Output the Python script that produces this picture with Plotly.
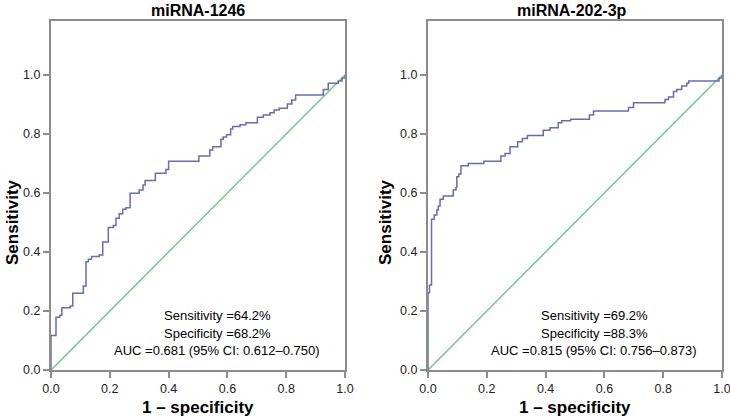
import plotly.graph_objects as go

# ROC curve 1 (miRNA-1246)
fpr1 = [0, 0, 0.017, 0.03, 0.037, 0.065, 0.074, 0.11, 0.119, 0.127, 0.138, 0.164, 0.176, 0.195, 0.212,
        0.221, 0.232, 0.244, 0.255, 0.269, 0.30, 0.313, 0.32, 0.355, 0.391, 0.40, 0.503, 0.54, 0.55, 0.578,
        0.586, 0.597, 0.611, 0.618, 0.643, 0.663, 0.702, 0.722, 0.745, 0.759, 0.776, 0.804, 0.819, 0.832,
        0.926, 0.943, 0.977, 0.99, 1.0]
tpr1 = [0, 0.117, 0.179, 0.186, 0.211, 0.217, 0.26, 0.285, 0.367, 0.375, 0.385, 0.39, 0.434, 0.483, 0.49,
        0.514, 0.53, 0.545, 0.55, 0.599, 0.61, 0.627, 0.642, 0.667, 0.68, 0.708, 0.725, 0.746, 0.757, 0.782,
        0.79, 0.797, 0.817, 0.825, 0.831, 0.838, 0.857, 0.864, 0.872, 0.881, 0.887, 0.902, 0.915, 0.932,
        0.951, 0.972, 0.98, 0.99, 1.0]

# ROC curve 2 (miRNA-202-3p)
fpr2 = [0, 0, 0.005, 0.012, 0.021, 0.03, 0.035, 0.041, 0.052, 0.086, 0.095, 0.098, 0.105, 0.112, 0.137,
        0.19, 0.248, 0.262, 0.279, 0.305, 0.321, 0.338, 0.392, 0.415, 0.443, 0.455, 0.485, 0.549, 0.563,
        0.682, 0.699, 0.806, 0.818, 0.835, 0.846, 0.863, 0.88, 0.887, 0.99, 1.0]
tpr2 = [0, 0.262, 0.288, 0.511, 0.525, 0.542, 0.556, 0.579, 0.59, 0.61, 0.619, 0.655, 0.664, 0.692, 0.70,
        0.708, 0.725, 0.734, 0.757, 0.774, 0.785, 0.795, 0.813, 0.821, 0.838, 0.845, 0.85, 0.864, 0.878,
        0.89, 0.906, 0.917, 0.925, 0.944, 0.951, 0.963, 0.972, 0.98, 0.99, 1.0]

ref_line = [0, 1]
titles = ["miRNA-1246", "miRNA-202-3p"]
stats = [
    ["Sensitivity =64.2%", "Specificity =68.2%", "AUC =0.681 (95% CI: 0.612–0.750)"],
    ["Sensitivity =69.2%", "Specificity =88.3%", "AUC =0.815 (95% CI: 0.756–0.873)"],
]
tick_vals = [0, 0.2, 0.4, 0.6, 0.8, 1.0]
tick_text = ["0.0", "0.2", "0.4", "0.6", "0.8", "1.0"]

BLUE = "rgb(102,110,172)"
GREEN = "rgb(112,198,142)"
FRAME = "rgb(140,140,140)"
FONT = "Liberation Sans, Arial, sans-serif"

fig = go.Figure()

curves = [(fpr1, tpr1), (fpr2, tpr2)]
for i, (fx, fy) in enumerate(curves):
    xa = "x" if i == 0 else "x2"
    ya = "y" if i == 0 else "y2"
    fig.add_trace(go.Scatter(x=ref_line, y=ref_line, mode="lines", line=dict(color=GREEN, width=1.5),
                             xaxis=xa, yaxis=ya, showlegend=False, hoverinfo="skip"))
    fig.add_trace(go.Scatter(x=fx, y=fy, mode="lines", line=dict(color=BLUE, width=1.5, shape="hv"),
                             xaxis=xa, yaxis=ya, showlegend=False))

# pixel layout helpers (plot area: x 51..722, y 21..370)
L, R, T, B = 51, 722, 21, 370
W, H = R - L, B - T


def px(x):
    return (x - L) / W


def py(y):
    return (B - y) / H


doms = [(px(51), px(345)), (px(428), px(722))]

axis_common = dict(showgrid=False, zeroline=False, showline=True, mirror=True, linecolor=FRAME,
                   linewidth=2, ticks="outside", ticklen=6, tickwidth=1.5, tickcolor=FRAME,
                   automargin=False, ticklabeloverflow="allow",
                   tickfont=dict(family=FONT, size=12.5, color="#222"))

fig.update_layout(
    width=730, height=417,
    margin=dict(l=L, r=730 - R, t=T, b=417 - B, pad=0),
    paper_bgcolor="white", plot_bgcolor="white",
    font=dict(family=FONT),
    xaxis=dict(domain=doms[0], range=[0, 1], tickvals=tick_vals, ticktext=tick_text, anchor="y", **axis_common),
    yaxis=dict(domain=[0, 1], range=[0, 1.183], tickvals=tick_vals, ticktext=tick_text, anchor="x", **axis_common),
    xaxis2=dict(domain=doms[1], range=[0, 1], tickvals=tick_vals, ticktext=tick_text, anchor="y2", **axis_common),
    yaxis2=dict(domain=[0, 1], range=[0, 1.183], tickvals=tick_vals, ticktext=tick_text, anchor="x2", **axis_common),
)

title_x = [198, 572]
ytitle_x = [12, 385]
stat_x = [217, 594]
stat_y = [315, 333, 350]

ann = []
for i in range(2):
    x0, x1 = doms[i]
    cx = (x0 + x1) / 2
    ann.append(dict(text="<b>" + titles[i] + "</b>", x=px(title_x[i]), y=py(10), xref="paper", yref="paper",
                    showarrow=False, font=dict(family=FONT, size=16, color="black"),
                    xanchor="center", yanchor="middle"))
    ann.append(dict(text="<b>1 – specificity</b>", x=cx, y=py(407), xref="paper", yref="paper",
                    showarrow=False, font=dict(family=FONT, size=17, color="black"),
                    xanchor="center", yanchor="middle"))
    ann.append(dict(text="<b>Sensitivity</b>", x=px(ytitle_x[i]), y=py(222),
                    xref="paper", yref="paper", textangle=-90, showarrow=False,
                    font=dict(family=FONT, size=17, color="black"), xanchor="center", yanchor="middle"))
    for t, yy in zip(stats[i], stat_y):
        ann.append(dict(text=t, x=px(stat_x[i]), y=py(yy), xref="paper", yref="paper",
                        showarrow=False, font=dict(family=FONT, size=13, color="black"),
                        xanchor="center", yanchor="middle"))
fig.update_layout(annotations=ann)

fig.write_html("out.html",
               config={"displayModeBar": False},
               post_script="document.body.style.margin='0px';document.body.style.padding='0px';"
                           "document.body.style.overflow='hidden';")
